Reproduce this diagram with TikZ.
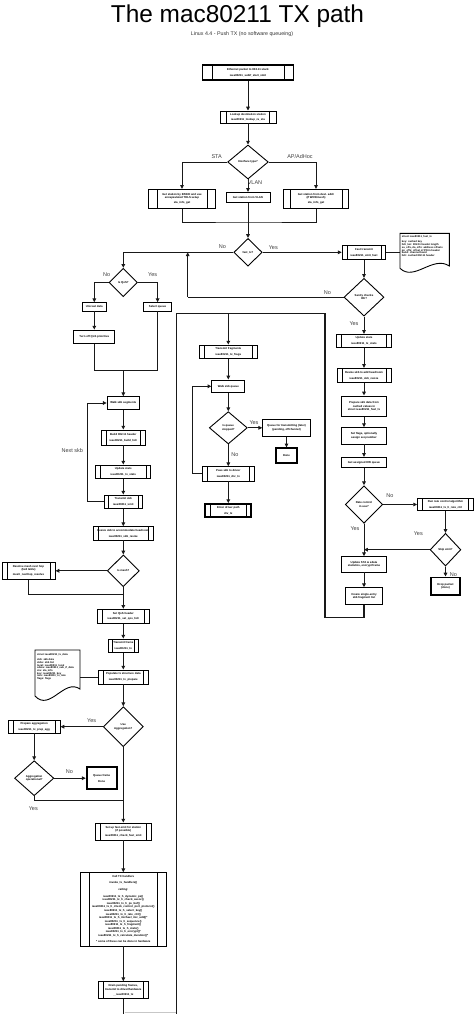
\documentclass[tikz,border=0pt]{standalone}
\usepackage{fontspec}
\setmainfont{Liberation Sans}
\usetikzlibrary{arrows.meta,shapes.geometric}
\tikzset{
  tx/.style={font=\fontsize{2.8}{3.4}\selectfont\bfseries},
  box/.style={draw, line width=0.9pt, inner sep=0pt, align=center, tx, fill=white},
  pp/.style={box, path picture={\draw[line width=0.6pt]
     ([xshift=#1]path picture bounding box.north west) -- ([xshift=#1]path picture bounding box.south west)
     ([xshift=-#1]path picture bounding box.north east) -- ([xshift=-#1]path picture bounding box.south east);}},
  pp/.default=5pt,
  thick box/.style={line width=1.9pt},
  dia/.style={diamond, draw, line width=0.9pt, inner sep=0pt, align=center, tx, fill=white},
  con/.style={line width=1pt, draw=black!90},
  arr/.style={con, -{Triangle[length=3.8pt,width=3.6pt]}},
  lab/.style={font=\fontsize{5.5}{6}\selectfont, inner sep=0pt, text=black!75},
  doc/.style={draw, line width=0.9pt, fill=white},
}
\begin{document}
\begin{tikzpicture}[x=1pt,y=-1pt]
\fill[white] (0,0) rectangle (474,1014);
\useasboundingbox (0,0) rectangle (474,1014);

% titles
\node[font=\fontsize{24.4}{26}\selectfont, anchor=base, inner sep=0pt] (title) at (237.5,22.7) {The mac80211 TX path};
\node[font=\fontsize{5.3}{6}\selectfont, anchor=base, inner sep=0pt, text=black!80] (sub) at (242,35.5) {Linux 4.4 - Push TX (no software queueing)};

% top part
\node[pp=9.4pt, thick box, minimum width=91pt, minimum height=15pt] (n1) at (248,72.5) {Ethernet packet to 802.11 stack\\[2.5pt]ieee80211\_subif\_start\_xmit};
\node[pp=6.3pt, minimum width=56pt, minimum height=12pt] (n2) at (248,117) {Lookup destination station\\[2pt]ieee80211\_lookup\_ra\_sta};
\node[dia, minimum width=40.6pt, minimum height=34pt] (d1) at (248,162) {Interface type?};
\node[pp=8.4pt, minimum width=67pt, minimum height=19pt] (n3L) at (182,198.8) {Get station by BSSID and use\\encapsulated TDLS setup\\[2pt]sta\_info\_get};
\node[box, minimum width=44pt, minimum height=10.4pt] (n3M) at (248,197.5) {Get station from VLAN};
\node[pp=6pt, minimum width=64.3pt, minimum height=19pt] (n3R) at (316,198.8) {Get station from dest. addr\\(if WDS/mesh)\\[2pt]sta\_info\_get};
\draw[arr] (n1.south) -- (n2.north);
\draw[arr] (n2.south) -- (d1.north);
\draw[arr] (d1.west) -| (n3L.north);
\draw[arr] (d1.east) -| (n3R.north);
\draw[arr] (d1.south) -- (n3M.north);
\node[lab] (lSTA) at (216.7,156.7) {STA};
\node[lab] (lAP) at (300,156.5) {AP/AdHoc};
\node[lab] (lVLAN) at (255,183) {VLAN};
\coordinate (m1) at (248,222);
\draw[con] (n3L.south) |- (m1) -| (n3R.south);

\node[dia, minimum width=28.3pt, minimum height=27.7pt] (d2) at (248,252.3) {fast\_tx?};
\draw[arr] (n3M.south) -- (d2.north);
\node[lab] (lNo1) at (222.3,246.7) {No};
\node[lab] (lYes1) at (273.3,247.3) {Yes};

% slow path, left
\node[dia, minimum width=28.3pt, minimum height=28.4pt] (d3) at (123.3,282.5) {Is QoS?};
\draw[arr] (d2.west) -| (d3.north);
\node[lab] (lNo2) at (106.7,274.3) {No};
\node[lab] (lYes2) at (152.7,274.3) {Yes};
\node[box, minimum width=24pt, minimum height=8.3pt] (L1) at (94.3,306.8) {Unicast data};
\node[box, minimum width=28.4pt, minimum height=8.3pt] (Rq) at (157.6,306.8) {Select queue};
\node[box, minimum width=41pt, minimum height=13.3pt] (L2) at (94.3,336.7) {Turn off QoS priorities};
\draw[arr] (d3.west) -| (L1.north);
\draw[arr] (d3.east) -| (Rq.north);
\draw[arr] (L1.south) -- (L2.north);
\coordinate (j1) at (123.3,370);
\draw[con] (L2.south) |- (j1);
\draw[con] (Rq.south) |- (j1);

\node[box, minimum width=32.3pt, minimum height=12.6pt] (A) at (123.3,403) {Walk skb segments};
\node[pp, minimum width=43.3pt, minimum height=15pt] (B) at (123.3,437.5) {Build 802.11 header\\[2.5pt]ieee80211\_build\_hdr};
\node[pp=4.3pt, minimum width=55pt, minimum height=13.3pt] (C) at (123.3,471.7) {Update stats\\[2.5pt]ieee80211\_tx\_stats};
\node[pp=4pt, minimum width=37.4pt, minimum height=13.3pt] (D) at (123.3,501.7) {Transmit skb\\[2.5pt]ieee80211\_xmit};
\node[pp, minimum width=60pt, minimum height=13.3pt] (E) at (123.3,533.3) {Resize skb to accommodate headroom\\[2.5pt]ieee80211\_skb\_resize};
\draw[arr] (j1) -- (A.north);
\draw[arr] (A.south) -- (B.north);
\draw[arr] (B.south) -- (C.north);
\draw[arr] (C.south) -- (D.north);
\draw[arr] (D.south) -- (E.north);
\coordinate (lpA) at (87.7,450);
\draw[arr] (D.west) -| (lpA) |- (A.west);
\node[lab] (lNext) at (72.3,450.7) {Next skb};

\node[dia, minimum width=32pt, minimum height=31.7pt] (d8) at (123.3,570.8) {Is mesh?};
\draw[arr] (E.south) -- (d8.north);
\node[pp, minimum width=53pt, minimum height=17.3pt] (M) at (28.5,570.8) {Resolve mesh next hop\\(fwd table)\\[2pt]mesh\_nexthop\_resolve};
\draw[arr] (d8.west) -- (M.east);
\coordinate (j3) at (123.3,594);
\draw[con] (M.south) |- (j3);

\node[pp, minimum width=51.7pt, minimum height=14pt] (F) at (123.3,616.3) {Set QoS header\\[2.5pt]ieee80211\_set\_qos\_hdr};
\node[pp=3.4pt, minimum width=29.4pt, minimum height=13.3pt] (G) at (123.3,645.7) {Transmit frame\\[2.5pt]ieee80211\_tx};
\node[pp, minimum width=50.7pt, minimum height=14pt] (H) at (123.3,677) {Populate tx structure data\\[2.5pt]ieee80211\_tx\_prepare};
\draw[arr] (d8.south) -- (F.north);
\draw[arr] (F.south) -- (G.north);
\draw[arr] (G.south) -- (H.north);

% document note 1
\draw[doc] (35,696) -- (35,650) -- (80,650) -- (80,689) .. controls (64,678) and (50,712) .. (35,696) -- cycle;
\node[anchor=north west, inner sep=0pt, align=left, font=\fontsize{2.6}{2.65}\selectfont\bfseries] (doc1) at (37,653.5) {struct ieee80211\_tx\_data\\[2.6pt]skb: skb data\\skbs: skb list\\local: ieee80211\_local\\sdata: ieee80211\_sub\_if\_data\\sta: sta\_info\\key: ieee80211\_key\\rate: ieee80211\_tx\_rate\\flags: flags};
\coordinate (doc1r) at (80,677);
\draw[con] (doc1r) -- (H.west);

\node[dia, minimum width=40pt, minimum height=40pt] (d9) at (123.3,726.7) {Use\\Aggregation?};
\draw[arr] (H.south) -- (d9.north);
\node[pp, minimum width=51.7pt, minimum height=12.6pt] (P) at (34.2,726.7) {Prepare aggregation\\[2.5pt]ieee80211\_tx\_prep\_agg};
\draw[arr] (d9.west) -- (P.east);
\node[lab] (lYes3) at (91.7,720.7) {Yes};
\node[dia, minimum width=39.3pt, minimum height=35pt] (d10) at (34.2,778.2) {Aggregation\\operational?};
\draw[arr] (P.south) -- (d10.north);
\node[box, thick box, minimum width=30pt, minimum height=21.6pt] (Q) at (101.7,778.2) {Queue frame\\[3pt]Done};
\draw[arr] (d10.east) -- (Q.west);
\node[lab] (lNo3) at (69.3,771.7) {No};
\coordinate (j4) at (123.3,800);
\draw[con] (d10.south) |- (j4);
\node[lab] (lYes4) at (33.3,808.3) {Yes};

\node[pp, minimum width=55.7pt, minimum height=17pt] (S) at (123.3,831.5) {Set up fast-xmit for station\\(if possible)\\[1.5pt]ieee80211\_check\_fast\_xmit};
\draw[arr] (d9.south) -- (S.north);

\node[pp=8.6pt, minimum width=85.3pt, minimum height=73.3pt, font=\fontsize{2.8}{3.55}\selectfont\bfseries] (T) at (123.3,909.3) {Call TX handlers\\[2.3pt]invoke\_tx\_handlers()\\[3.6pt]calling:\\[3pt]ieee80211\_tx\_h\_dynamic\_ps()\\ieee80211\_tx\_h\_check\_assoc()\\ieee80211\_tx\_h\_ps\_buf()\\ieee80211\_tx\_h\_check\_control\_port\_protocol()\\ieee80211\_tx\_h\_select\_key()\\ieee80211\_tx\_h\_rate\_ctrl()\\ieee80211\_tx\_h\_michael\_mic\_add()*\\ieee80211\_tx\_h\_sequence()\\ieee80211\_tx\_h\_fragment()\\ieee80211\_tx\_h\_stats()\\ieee80211\_tx\_h\_encrypt()*\\ieee80211\_tx\_h\_calculate\_duration()*\\[3pt]* some of these can be done in hardware};
\draw[arr] (S.south) -- (T.north);
\node[pp, minimum width=50.6pt, minimum height=16.6pt] (U) at (123.3,990) {Drain pending frames,\\transmit to driver/hardware\\[1.5pt]\_\_ieee80211\_tx};
\draw[arr] (T.south) -- (U.north);
\coordinate (bot1) at (123.3,1014);
\draw[con] (U.south) -- (bot1);
\coordinate (g1) at (124.5,1012.3);
\coordinate (g2) at (176.7,1012.3);
\draw[line width=1pt, black!22] (g1) -- (g2);

% fast path, right
\node[pp, minimum width=43.7pt, minimum height=14.3pt] (FB) at (364,252.3) {Fast transmit\\[2.5pt]ieee80211\_xmit\_fast};
\draw[arr] (d2.east) -- (FB.west);
\draw[doc] (400,268.3) -- (400,233.3) -- (449.3,233.3) -- (449.3,266) .. controls (433,255) and (414,282) .. (400,268.3) -- cycle;
\node[anchor=north west, inner sep=0pt, align=left, font=\fontsize{2.6}{2.75}\selectfont\bfseries] (doc2) at (401.7,235) {struct ieee80211\_fast\_tx\\[3pt]key: cached key\\hdr\_len: 802.11 header length\\sa\_offs, da\_offs: address offsets\\pn\_offs: offset of PN in header\\band: channel band\\hdr: cached 802.11 header};
\coordinate (doc2l) at (400,252.3);
\draw[con] (FB.east) -- (doc2l);

\node[dia, minimum width=40pt, minimum height=37.7pt] (d4) at (364,297.2) {Sanity checks\\OK?};
\draw[arr] (FB.south) -- (d4.north);
\node[lab] (lNo4) at (327.3,292.3) {No};
\node[lab] (lYes5) at (354,323.3) {Yes};
\coordinate (j5) at (187.7,297.2);
\coordinate (j6) at (187.7,252.3);
\draw[con] (d4.west) -- (j5);
\draw[arr] (j5) -- (j6);

\node[pp, minimum width=55pt, minimum height=12.7pt] (US) at (364,340.7) {Update stats\\[2.5pt]ieee80211\_tx\_stats};
\node[pp, minimum width=54pt, minimum height=14pt] (R2) at (364,375.3) {Resize skb to add headroom\\[2.5pt]ieee80211\_skb\_resize};
\node[box, minimum width=45.3pt, minimum height=20.7pt] (R3) at (364,406.3) {Prepare skb data from\\cached values in\\struct ieee80211\_fast\_tx};
\node[box, minimum width=45.3pt, minimum height=16.3pt] (R4) at (364,435.8) {Set flags, optionally\\assign seq number};
\node[box, minimum width=45.3pt, minimum height=10.4pt] (R5) at (364,462.5) {Get assigned HW queue};
\draw[arr] (d4.south) -- (US.north);
\draw[arr] (US.south) -- (R2.north);
\draw[arr] (R2.south) -- (R3.north);
\draw[arr] (R3.south) -- (R4.north);
\draw[arr] (R4.south) -- (R5.north);
\node[dia, minimum width=37.3pt, minimum height=37.6pt] (d5) at (364,504.5) {Rate control\\in use?};
\draw[arr] (R5.south) -- (d5.north);
\node[pp, minimum width=56pt, minimum height=11.7pt] (R6) at (445.5,504.5) {Run rate control algorithm\\[2pt]ieee80211\_tx\_h\_rate\_ctrl};
\draw[arr] (d5.east) -- (R6.west);
\node[lab] (lNo5) at (390,495.7) {No};
\node[dia, minimum width=30.7pt, minimum height=32.7pt] (d6) at (445.5,549.7) {Skip xmit?};
\draw[arr] (R6.south) -- (d6.north);
\coordinate (j7) at (364,549.7);
\draw[arr] (d6.west) -- (j7);
\node[lab] (lYes6) at (418.3,534) {Yes};
\node[lab] (lYes7) at (355,528.3) {Yes};
\node[lab] (lNo6) at (453.3,575) {No};
\node[box, minimum width=45.3pt, minimum height=15.3pt] (R7) at (364,564.3) {Update STA \& sdata\\statistics, encrypt frame};
\draw[arr] (d5.south) -- (R7.north);
\node[box, thick box, minimum width=29.3pt, minimum height=17.5pt] (R8) at (445.5,586.2) {Drop packet\\(done)};
\draw[arr] (d6.south) -- (R8.north);
\node[box, minimum width=37.7pt, minimum height=16.6pt] (R9) at (364,596) {Create single-entry\\skb fragment list};
\draw[arr] (R7.south) -- (R9.north);

% big loop
\coordinate (Lbr) at (325,617.3);
\coordinate (Ltr) at (325,313.3);
\coordinate (Ltl) at (176.7,313.3);
\coordinate (L0) at (176.7,1014);
\coordinate (Lb) at (228.3,313.3);
\draw[con, line width=1.2pt] (R9.south) |- (Lbr) -- (Ltr) -- (Ltl) -- (L0);

% centre column
\node[pp, minimum width=58pt, minimum height=13.3pt] (C1) at (228.3,351.7) {Transmit fragments\\[2.5pt]ieee80211\_tx\_frags};
\draw[arr] (Lb) -- (C1.north);
\node[box, minimum width=33pt, minimum height=12.7pt] (C2) at (228.3,386.3) {Walk skb queue};
\draw[arr] (C1.south) -- (C2.north);
\node[dia, minimum width=38pt, minimum height=32.3pt] (d7) at (228.3,427.8) {Is queue\\stopped?};
\draw[arr] (C2.south) -- (d7.north);
\node[box, minimum width=47.6pt, minimum height=16.7pt] (C3) at (286.5,427.8) {Queue for transmitting (later)\\(pending, offchannel)};
\draw[arr] (d7.east) -- (C3.west);
\node[lab] (lYes8) at (254,422.7) {Yes};
\node[box, thick box, minimum width=21.6pt, minimum height=15pt] (C3b) at (286.5,455.8) {Done};
\draw[arr] (C3.south) -- (C3b.north);
\node[lab] (lNo7) at (235,455) {No};
\node[pp, minimum width=52.7pt, minimum height=14.3pt] (C4) at (228.3,473.8) {Pass skb to driver\\[2.5pt]ieee80211\_drv\_tx};
\draw[arr] (d7.south) -- (C4.north);
\node[pp, thick box, minimum width=46pt, minimum height=13.3pt] (C5) at (228.3,510.7) {Enter driver path\\[2.5pt]drv\_tx};
\draw[arr] (C4.south) -- (C5.north);
\coordinate (lpC) at (192.7,430);
\draw[arr] (C4.west) -| (lpC) |- (C2.west);
\end{tikzpicture}
\end{document}
